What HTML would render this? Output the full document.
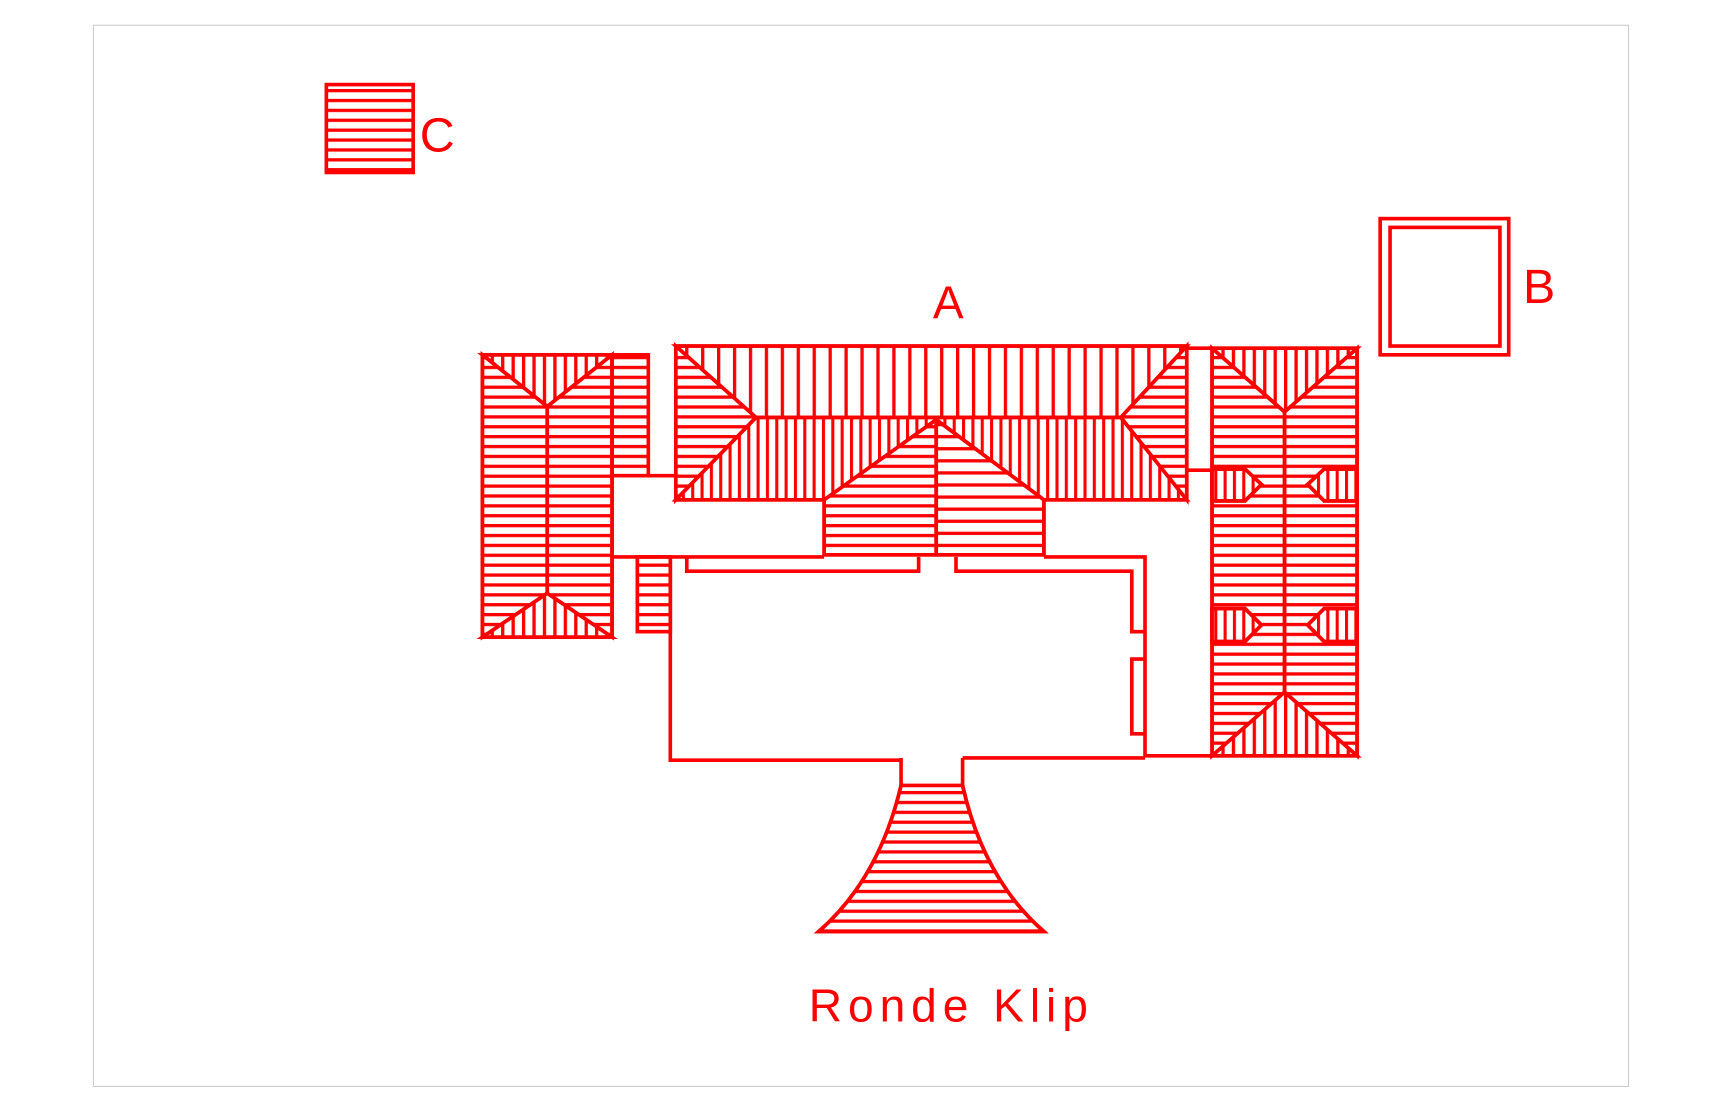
<!DOCTYPE html>
<html><head><style>html,body{margin:0;padding:0;background:#fff}svg{display:block}</style></head>
<body>
<svg width="1723" height="1115" viewBox="0 0 1568 1015" preserveAspectRatio="none" xmlns="http://www.w3.org/2000/svg">
<defs>
<pattern id="h" width="20" height="9" patternUnits="userSpaceOnUse"><rect x="0" y="0" width="20" height="3" fill="#f00"/></pattern>
<pattern id="vw" width="14.5" height="20" patternUnits="userSpaceOnUse"><rect x="0" y="0" width="3" height="20" fill="#f00"/></pattern>
<pattern id="v" width="8.5" height="20" patternUnits="userSpaceOnUse"><rect x="0" y="0" width="2.8" height="20" fill="#f00"/></pattern>
<pattern id="v2" width="9.5" height="20" patternUnits="userSpaceOnUse"><rect x="0" y="0" width="3" height="20" fill="#f00"/></pattern>
<pattern id="h2" width="20" height="11" patternUnits="userSpaceOnUse"><rect x="0" y="0" width="20" height="3" fill="#f00"/></pattern>
</defs>
<rect x="85" y="23" width="1397" height="966" fill="none" stroke="#ccc" stroke-width="1"/>
<g stroke="#f00" stroke-width="3.3" fill="none" stroke-linejoin="miter">
<rect x="297" y="77" width="79" height="80" fill="url(#h)"/>
<rect x="1256" y="199" width="117" height="124"/>
<rect x="1265" y="207" width="100" height="108"/>
<polygon points="615,315 1080,315 1020,380 688,380" fill="url(#vw)"/>
<polygon points="615,315 688,380 615,455" fill="url(#h)"/>
<polygon points="1080,315 1020,380 1080,455" fill="url(#h)"/>
<polygon points="688,380 1020,380 1080,455 615,455" fill="url(#v)"/>
<rect x="615" y="315" width="465" height="140"/>
<polygon points="750,455 852,382 950,455 950,505 750,505" fill="#fff"/>
<polygon points="750,455 852,382 852,505 750,505" fill="url(#h)"/>
<polygon points="852,382 950,455 950,505 852,505" fill="url(#h2)"/>
<line x1="852" y1="382" x2="852" y2="505"/>
<polygon points="439,323 557,323 498,370" fill="url(#v2)"/>
<polygon points="439,580 557,580 498,540" fill="url(#v2)"/>
<polygon points="439,323 498,370 498,540 439,580" fill="url(#h)"/>
<polygon points="557,323 498,370 498,540 557,580" fill="url(#h)"/>
<rect x="439" y="323" width="118" height="257"/>
<rect x="557" y="323" width="33" height="110" fill="url(#h)"/>
<line x1="590" y1="433" x2="615" y2="433"/>
<line x1="557" y1="507" x2="610" y2="507"/>
<rect x="580" y="507" width="30" height="68" fill="url(#h)"/>
<polyline points="750,507 610,507 610,692 820,692"/>
<polyline points="625,507 625,520 836,520 836,507"/>
<polyline points="870,507 870,520 1030,520 1030,575 1042,575"/>
<polyline points="1042,600 1030,600 1030,668 1042,668"/>
<polyline points="950,507 1042,507 1042,688 1103,688"/>
<line x1="876" y1="690" x2="1042" y2="690"/>
<polygon points="1103,317 1235,317 1169,375" fill="url(#v2)"/>
<polygon points="1103,688 1235,688 1169,630" fill="url(#v2)"/>
<polygon points="1103,317 1169,375 1169,630 1103,688" fill="url(#h)"/>
<polygon points="1235,317 1169,375 1169,630 1235,688" fill="url(#h)"/>
<rect x="1103" y="317" width="132" height="371"/>
<line x1="1080" y1="317" x2="1103" y2="317"/>
<line x1="1080" y1="428" x2="1103" y2="428"/>
<polygon points="1103,427 1133,427 1148,441 1133,456 1103,456" fill="#fff"/>
<polygon points="1103,427 1133,427 1148,441 1133,456 1103,456" fill="url(#v)"/>
<polygon points="1235,427 1205,427 1190,441 1205,456 1235,456" fill="#fff"/>
<polygon points="1235,427 1205,427 1190,441 1205,456 1235,456" fill="url(#v)"/>
<polygon points="1103,554 1133,554 1148,569 1133,584 1103,584" fill="#fff"/>
<polygon points="1103,554 1133,554 1148,569 1133,584 1103,584" fill="url(#v)"/>
<polygon points="1235,554 1205,554 1190,569 1205,584 1235,584" fill="#fff"/>
<polygon points="1235,554 1205,554 1190,569 1205,584 1235,584" fill="url(#v)"/>
<path d="M820,690 L820,715 Q800,800 745,848 L950,848 Q895,800 876,715 L876,690" fill="#fff"/>
<path d="M820,715 Q800,800 745,848 L950,848 Q895,800 876,715 Z" fill="url(#h)"/>
</g>
<g fill="#f00" font-family="Liberation Sans, sans-serif">
<text x="382" y="138" font-size="44">C</text>
<text x="1386" y="276" font-size="44">B</text>
<text x="849" y="290" font-size="42">A</text>
<text x="736" y="930" font-size="42" textLength="254" lengthAdjust="spacing">Ronde  Klip</text>
</g>
</svg>
</body></html>
